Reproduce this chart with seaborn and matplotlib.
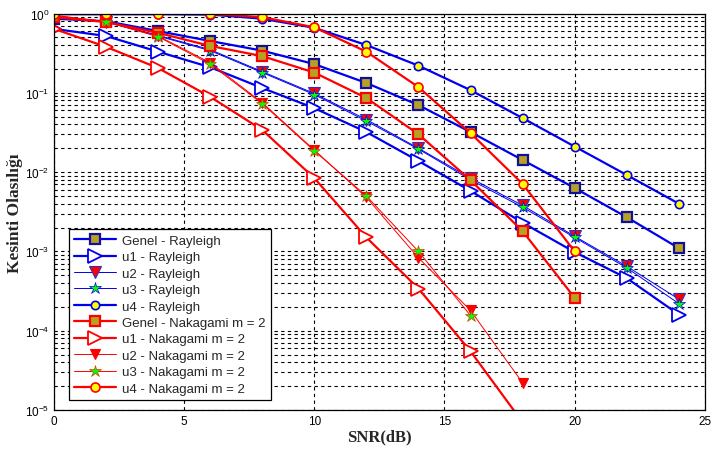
import matplotlib
matplotlib.use('Agg')
import matplotlib.pyplot as plt
import seaborn as sns
import numpy as np
from matplotlib.ticker import LogLocator, NullFormatter

# SNR values (dB), markers every 2 dB
snr = [0, 2, 4, 6, 8, 10, 12, 14, 16, 18, 20, 22, 24]

# Rayleigh curves
genel_ray = [0.86, 0.80, 0.60, 0.45, 0.34, 0.23, 0.133, 0.070, 0.032, 0.0142, 0.0063, 0.0027, 0.0011]
u1_ray = [0.64, 0.52, 0.33, 0.21, 0.115, 0.064, 0.032, 0.0138, 0.0058, 0.0023, 0.00098, 0.00046, 0.00016]
u2_ray = [0.93, 0.79, 0.53, 0.35, 0.185, 0.098, 0.046, 0.020, 0.0084, 0.0038, 0.00155, 0.00065, 0.00025]
u3_ray = [0.92, 0.78, 0.52, 0.34, 0.180, 0.095, 0.044, 0.0195, 0.0080, 0.0036, 0.00150, 0.00062, 0.00022]
u4_ray = [0.98, 0.98, 0.98, 0.97, 0.86, 0.66, 0.40, 0.22, 0.108, 0.048, 0.021, 0.0092, 0.0040]

# Nakagami m = 2 curves (shorter, they drop below the plot)
genel_nak = [0.90, 0.78, 0.57, 0.39, 0.29, 0.18, 0.086, 0.030, 0.0079, 0.0018, 0.00026]
u1_nak = [0.64, 0.38, 0.205, 0.089, 0.034, 0.0084, 0.0015, 0.00034, 0.000055, 0.000007]
u2_nak = [0.95, 0.79, 0.52, 0.24, 0.075, 0.019, 0.0048, 0.00083, 0.00018, 0.000022]
u3_nak = [0.94, 0.79, 0.51, 0.23, 0.073, 0.0185, 0.0050, 0.0010, 0.000155]
u4_nak = [0.99, 0.99, 0.99, 0.985, 0.90, 0.67, 0.33, 0.118, 0.031, 0.0071, 0.0010]

BLUE = '#0000EE'
DBLUE = '#10109A'
RED = '#FF0000'
GOLD = '#B8A024'
YEL = '#FFFF00'
GRN = '#00FF00'

sns.set_style('white')
plt.rcParams['font.family'] = ['Liberation Sans', 'DejaVu Sans']

fig = plt.figure(figsize=(7.17, 4.56), dpi=100)
ax = fig.add_axes([0.0753, 0.0987, 0.9077, 0.8695])
ax.set_yscale('log')

series = [
    (genel_ray, 'Genel - Rayleigh', BLUE, 1.6, dict(marker='s', markersize=7, markerfacecolor=GOLD, markeredgecolor=DBLUE, markeredgewidth=1.6)),
    (u1_ray, 'u1 - Rayleigh', BLUE, 1.6, dict(marker='>', markersize=10, markerfacecolor='white', markeredgecolor=BLUE, markeredgewidth=1.3)),
    (u2_ray, 'u2 - Rayleigh', BLUE, 0.7, dict(marker='v', markersize=9, markerfacecolor=RED, markeredgecolor='#3030C0', markeredgewidth=0.8)),
    (u3_ray, 'u3 - Rayleigh', BLUE, 0.7, dict(marker='*', markersize=9, markerfacecolor=GRN, markeredgecolor=BLUE, markeredgewidth=0.5)),
    (u4_ray, 'u4 - Rayleigh', BLUE, 1.6, dict(marker='o', markersize=6, markerfacecolor=YEL, markeredgecolor=BLUE, markeredgewidth=1.2)),
    (genel_nak, 'Genel - Nakagami m = 2', RED, 1.6, dict(marker='s', markersize=7, markerfacecolor=GOLD, markeredgecolor=RED, markeredgewidth=1.6)),
    (u1_nak, 'u1 - Nakagami m = 2', RED, 1.6, dict(marker='>', markersize=10, markerfacecolor='white', markeredgecolor=RED, markeredgewidth=1.3)),
    (u2_nak, 'u2 - Nakagami m = 2', RED, 0.7, dict(marker='v', markersize=7, markerfacecolor=RED, markeredgecolor=RED, markeredgewidth=0.8)),
    (u3_nak, 'u3 - Nakagami m = 2', RED, 0.7, dict(marker='*', markersize=9, markerfacecolor=GRN, markeredgecolor='#D04000', markeredgewidth=0.5)),
    (u4_nak, 'u4 - Nakagami m = 2', RED, 1.6, dict(marker='o', markersize=6.5, markerfacecolor=YEL, markeredgecolor=RED, markeredgewidth=1.2)),
]

for vals, label, col, lw, mk in series:
    sns.lineplot(x=snr[:len(vals)], y=vals, ax=ax, color=col, linewidth=lw,
                 label=label, clip_on=True, **mk)

ax.set_xlim(0, 25)
ax.set_ylim(1e-5, 1)
ax.set_xticks([0, 5, 10, 15, 20, 25])
ax.yaxis.set_major_locator(LogLocator(base=10, numticks=10))
ax.yaxis.set_minor_locator(LogLocator(base=10, subs=np.arange(2, 10), numticks=100))
ax.yaxis.set_minor_formatter(NullFormatter())

# dashed grid like MATLAB
ax.grid(True, which='major', axis='both', color='black', linestyle=(0, (3, 3)), linewidth=0.8)
ax.grid(True, which='minor', axis='y', color='black', linestyle=(0, (3, 3)), linewidth=0.8)
ax.set_axisbelow(True)

ax.tick_params(which='both', direction='in', labelsize=8.5, colors='black')
ax.tick_params(which='major', length=4)
ax.tick_params(which='minor', length=2)
for s in ax.spines.values():
    s.set_color('black')
    s.set_linewidth(0.9)

ax.set_xlabel('SNR(dB)', family=['Liberation Serif'], fontweight='bold', fontsize=12, labelpad=1)
ax.set_ylabel('Kesinti Olasılığı', family=['Liberation Serif'], fontweight='bold', fontsize=12.5, labelpad=1)

leg = ax.legend(loc='lower left', bbox_to_anchor=(0.023, 0.025), borderaxespad=0,
                fontsize=9.5, handlelength=3.2, labelspacing=0.32, fancybox=False,
                framealpha=1, edgecolor='black', borderpad=0.4, handletextpad=0.4)
leg.get_frame().set_linewidth(0.9)

fig.savefig('out.png', dpi=100)
